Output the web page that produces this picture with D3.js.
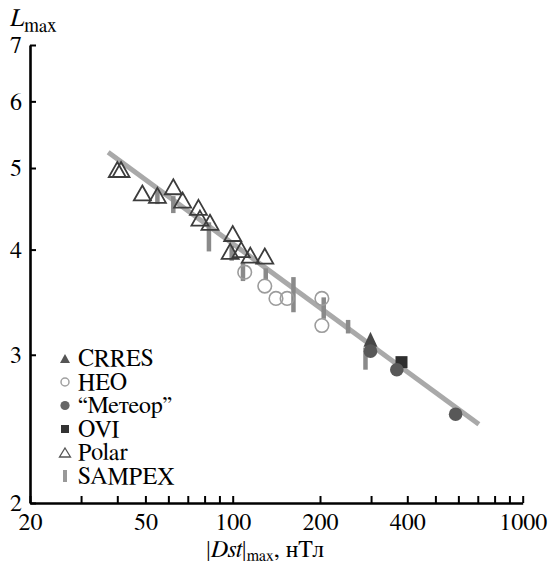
<!DOCTYPE html>
<html><head><meta charset="utf-8"><script src="https://cdn.jsdelivr.net/npm/d3@7"></script></head>
<body style="margin:0">
<svg id="chart" width="551" height="567"></svg>
<script>
// ---- data ----
const polarX = [40, 41.2, 48.8, 55, 62.4, 67.2, 76.2, 77.1, 83.5, 100, 98, 107, 115, 129];
const polarY = [4.98, 4.98, 4.67, 4.64, 4.75, 4.58, 4.49, 4.36, 4.31, 4.18, 3.98, 4.0, 3.94, 3.93];
const sampexX = [55, 62.4, 82.8, 99.2, 108.5, 130, 162, 206, 250, 287];
const sampexLow = [4.53, 4.42, 3.98, 3.88, 3.67, 3.68, 3.37, 3.31, 3.18, 2.88];
const sampexHigh = [4.71, 4.63, 4.31, 4.04, 3.86, 3.80, 3.71, 3.51, 3.30, 3.06];
const heoX = [110, 129, 141, 154, 203, 203];
const heoY = [3.76, 3.62, 3.50, 3.50, 3.50, 3.25];
const meteorX = [298.6, 368, 587];
const meteorY = [3.03, 2.88, 2.55];
const crresX = [298.6];
const crresY = [3.13];
const oviX = [382];
const oviY = [2.94];
const fitX = [37.2, 706];
const fitY = [5.22, 2.48];
const xTicks = [20, 30, 40, 50, 60, 70, 80, 90, 100, 200, 300, 400, 500, 600, 700, 800, 900, 1000];
const xTickLabels = [20, 50, 100, 200, 400, 1000];
const yTicks = [2, 3, 4, 5, 6, 7];
const legendNames = ["CRRES", "HEO", "“Метеор”", "OVI", "Polar", "SAMPEX"];

const FONT = "FreeSerif";

// ---- scales ----
const svg = d3.select("#chart");
const x = d3.scaleLog().domain([20, 1000]).range([30, 522.7]);
const y = d3.scaleLog().domain([2, 7]).range([503, 45]);

// ---- fit line ----
svg.append("line")
  .attr("x1", x(fitX[0])).attr("y1", y(fitY[0]))
  .attr("x2", x(fitX[1])).attr("y2", y(fitY[1]))
  .attr("stroke", "#a9a9a9").attr("stroke-width", 5);

// ---- SAMPEX bars ----
svg.append("g").selectAll("line").data(sampexX).join("line")
  .attr("x1", d => x(d)).attr("x2", d => x(d))
  .attr("y1", (d, i) => y(sampexHigh[i])).attr("y2", (d, i) => y(sampexLow[i]))
  .attr("stroke", "#8a8a8a").attr("stroke-width", 4.5);

// ---- HEO open circles ----
svg.append("g").selectAll("circle").data(heoX).join("circle")
  .attr("cx", d => x(d)).attr("cy", (d, i) => y(heoY[i])).attr("r", 6.8)
  .attr("fill", "none").attr("stroke", "#9c9c9c").attr("stroke-width", 1.6);

// ---- Polar open triangles ----
const tri = (w, h) => `M0,${-h/2}L${w/2},${h/2}L${-w/2},${h/2}Z`;
svg.append("g").selectAll("path").data(polarX).join("path")
  .attr("transform", (d, i) => `translate(${x(d)},${y(polarY[i])})`)
  .attr("d", tri(17, 15))
  .attr("fill", "none").attr("stroke", "#3c3c3c").attr("stroke-width", 1.8);

// ---- OVI squares ----
svg.append("g").selectAll("rect").data(oviX).join("rect")
  .attr("x", d => x(d) - 6).attr("y", (d, i) => y(oviY[i]) - 6)
  .attr("width", 12).attr("height", 12).attr("fill", "#2e2e2e");

// ---- CRRES filled triangles ----
svg.append("g").selectAll("path").data(crresX).join("path")
  .attr("transform", (d, i) => `translate(${x(d)},${y(crresY[i])})`)
  .attr("d", tri(14, 15)).attr("fill", "#474747");

// ---- Meteor filled circles ----
svg.append("g").selectAll("circle").data(meteorX).join("circle")
  .attr("cx", d => x(d)).attr("cy", (d, i) => y(meteorY[i])).attr("r", 6.8)
  .attr("fill", "#585858");

// ---- axes ----
const xAxis = d3.axisBottom(x).tickValues(xTicks)
  .tickFormat(d => xTickLabels.includes(d) ? String(d) : "")
  .tickSizeInner(-7).tickSizeOuter(0).tickPadding(10);
const gx = svg.append("g").attr("transform", "translate(0,503)").call(xAxis);
const yAxis = d3.axisLeft(y).tickValues(yTicks).tickFormat(d => String(d))
  .tickSizeInner(-6).tickSizeOuter(0).tickPadding(8);
const gy = svg.append("g").attr("transform", "translate(30,0)").call(yAxis);
[gx, gy].forEach(g => {
  g.attr("font-family", FONT).attr("font-size", 24);
  g.select(".domain").attr("stroke", "#000").attr("stroke-width", 2.6);
  g.selectAll(".tick line").attr("stroke", "#000").attr("stroke-width", 2);
  g.selectAll(".tick text").attr("fill", "#000").attr("font-family", FONT).attr("font-size", 24);
});

// ---- axis titles ----
const yt = svg.append("text").attr("x", 10).attr("y", 26).attr("fill", "#000").attr("font-family", FONT);
yt.append("tspan").attr("font-style", "italic").attr("font-size", 25).text("L");
yt.append("tspan").attr("font-size", 19).attr("dy", 6).text("max");

const xt = svg.append("text").attr("x", 206).attr("y", 557).attr("fill", "#000")
  .attr("font-size", 24).attr("font-family", FONT);
xt.append("tspan").text("|");
xt.append("tspan").attr("font-style", "italic").text("Dst");
xt.append("tspan").text("|");
xt.append("tspan").attr("font-size", 16).attr("dy", 4).text("max");
xt.append("tspan").attr("dy", -4).text(", нТл");

// ---- legend ----
const legendY = [366, 389.5, 413, 436.5, 460, 483.5];
const lg = svg.append("g");
legendNames.forEach((name, i) => {
  const by = legendY[i];
  const cy = by - 7.5;
  const sx = 65;
  if (i === 0) lg.append("path").attr("transform", `translate(${sx},${cy})`).attr("d", tri(10, 9)).attr("fill", "#555");
  if (i === 1) lg.append("circle").attr("cx", sx).attr("cy", cy).attr("r", 4).attr("fill", "none").attr("stroke", "#a0a0a0").attr("stroke-width", 1.5);
  if (i === 2) lg.append("circle").attr("cx", sx).attr("cy", cy).attr("r", 4.6).attr("fill", "#666");
  if (i === 3) lg.append("rect").attr("x", sx - 4).attr("y", cy - 4).attr("width", 8).attr("height", 8).attr("fill", "#333");
  if (i === 4) lg.append("path").attr("transform", `translate(${sx},${cy})`).attr("d", tri(11, 9)).attr("fill", "none").attr("stroke", "#555").attr("stroke-width", 1.3);
  if (i === 5) lg.append("rect").attr("x", sx - 2).attr("y", cy - 6).attr("width", 4).attr("height", 12).attr("fill", "#999");
  lg.append("text").attr("x", 78).attr("y", by).attr("font-size", 24).attr("font-family", FONT)
    .attr("fill", "#000").text(name);
});
</script>
</body></html>
